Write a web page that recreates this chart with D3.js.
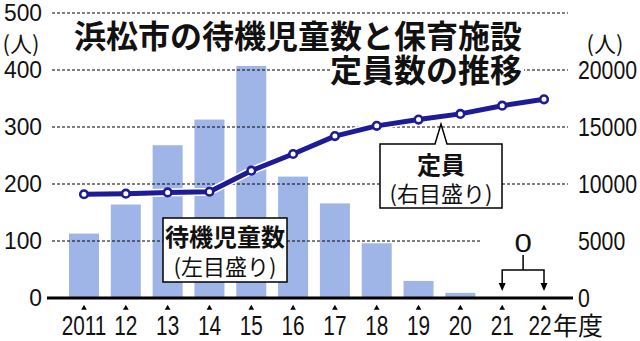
<!DOCTYPE html>
<html>
<head>
<meta charset="utf-8">
<script src="https://cdn.jsdelivr.net/npm/d3@7"></script>
<style>
  body { margin: 0; background: #fff; }
  svg { display: block; }
  .jp { font-family: "Noto Sans CJK JP", sans-serif; }
  .num { font-family: "Liberation Sans", sans-serif; }
</style>
</head>
<body>
<svg width="640" height="341"></svg>
<script>
const years = ["2011", "12", "13", "14", "15", "16", "17", "18", "19", "20", "21", "22"];
const waiting = [113, 164, 268, 313, 407, 213, 166, 96, 30, 9, 0, 0];
const capacity = [9100, 9150, 9260, 9320, 11170, 12630, 14200, 15100, 15650, 16150, 16870, 17430];
const leftTicks = [0, 100, 200, 300, 400, 500];
const rightTicks = [0, 5000, 10000, 15000, 20000];

const navy = "#1d1b96";
const barColor = "#9fb5e7";

const svg = d3.select("svg");

const x = d3.scalePoint().domain(years).range([84, 544]);
const yL = d3.scaleLinear().domain([0, 500]).range([298, 13]);
const yR = d3.scaleLinear().domain([0, 25000]).range([298, 13]);
const barW = 30;

// bars
svg.append("g")
  .selectAll("rect")
  .data(years)
  .enter()
  .append("rect")
  .attr("fill", barColor)
  .attr("x", (d) => x(d) - barW / 2)
  .attr("width", barW)
  .attr("y", (d, i) => yL(waiting[i]))
  .attr("height", (d, i) => yL(0) - yL(waiting[i]));

// dashed grid
svg.append("g")
  .selectAll("line")
  .data(leftTicks.slice(1))
  .enter()
  .append("line")
  .attr("x1", 52)
  .attr("x2", (d) => d === 100 ? 482 : 568)
  .attr("y1", (d) => yL(d))
  .attr("y2", (d) => yL(d))
  .attr("stroke", "#000")
  .attr("stroke-width", 1.2)
  .attr("stroke-dasharray", "3,2");

// left axis labels
svg.append("g")
  .selectAll("text")
  .data(leftTicks)
  .enter()
  .append("text")
  .attr("class", "num")
  .attr("font-size", 24)
  .attr("fill", "#111")
  .attr("text-anchor", "end")
  .attr("dominant-baseline", "central")
  .attr("transform", (d) => "translate(42," + yL(d) + ") scale(0.95,1)")
  .text((d) => d);

// right axis labels
svg.append("g")
  .selectAll("text")
  .data(rightTicks)
  .enter()
  .append("text")
  .attr("class", "num")
  .attr("font-size", 25)
  .attr("fill", "#111")
  .attr("dominant-baseline", "central")
  .attr("transform", (d) => "translate(578," + yR(d) + ") scale(0.85,1)")
  .text((d) => d);

// unit labels
svg.append("text").attr("class", "jp").attr("x", 21).attr("y", 42)
  .attr("text-anchor", "middle").attr("dominant-baseline", "central")
  .attr("font-size", 22).attr("fill", "#111").text("(人)");
svg.append("text").attr("class", "jp").attr("x", 605).attr("y", 42)
  .attr("text-anchor", "middle").attr("dominant-baseline", "central")
  .attr("font-size", 22).attr("fill", "#111").text("(人)");

// x axis line
svg.append("line")
  .attr("x1", 47).attr("x2", 573)
  .attr("y1", yL(0)).attr("y2", yL(0))
  .attr("stroke", "#000").attr("stroke-width", 3);

// tick triangles
svg.append("g")
  .selectAll("path")
  .data(years)
  .enter()
  .append("path")
  .attr("d", d3.symbol(d3.symbolTriangle, 14))
  .attr("transform", (d) => "translate(" + x(d) + ",308)");

// x labels
svg.append("g")
  .selectAll("text")
  .data(years)
  .enter()
  .append("text")
  .attr("class", "num")
  .attr("font-size", 27)
  .attr("fill", "#111")
  .attr("text-anchor", "middle")
  .attr("transform", (d) => "translate(" + (x(d) - (d === "22" ? 4 : 0)) + ",335) scale(0.77,1)")
  .text((d) => d);
svg.append("text").attr("class", "jp")
  .attr("x", x("22") + 9).attr("y", 335)
  .attr("font-size", 25).attr("fill", "#111").text("年度");

// title
svg.append("rect").attr("x", 330).attr("y", 54).attr("width", 194).attr("height", 28).attr("fill", "#fff");
svg.append("text").attr("class", "jp")
  .attr("x", 522).attr("y", 34)
  .attr("text-anchor", "end").attr("dominant-baseline", "central")
  .attr("font-size", 32).attr("font-weight", 700).attr("fill", "#111")
  .text("浜松市の待機児童数と保育施設");
svg.append("text").attr("class", "jp")
  .attr("x", 522).attr("y", 68)
  .attr("text-anchor", "end").attr("dominant-baseline", "central")
  .attr("font-size", 32).attr("font-weight", 700).attr("fill", "#111")
  .text("定員数の推移");

// left callout box
svg.append("rect")
  .attr("x", 163).attr("y", 218).attr("width", 124).attr("height", 64)
  .attr("fill", "#fff").attr("stroke", "#000").attr("stroke-width", 1.5);
svg.append("text").attr("class", "jp")
  .attr("x", 225).attr("y", 235)
  .attr("text-anchor", "middle").attr("dominant-baseline", "central")
  .attr("font-size", 24).attr("font-weight", 700).attr("fill", "#111")
  .text("待機児童数");
svg.append("text").attr("class", "jp")
  .attr("x", 225).attr("y", 265)
  .attr("text-anchor", "middle").attr("dominant-baseline", "central")
  .attr("font-size", 22).attr("fill", "#111")
  .text("(左目盛り)");

// "0" annotation
svg.append("rect").attr("x", 484).attr("y", 230).attr("width", 80).attr("height", 24).attr("fill", "#fff");
svg.append("text")
  .attr("class", "num")
  .attr("font-size", 26).attr("fill", "#111")
  .attr("text-anchor", "middle").attr("dominant-baseline", "central")
  .attr("transform", "translate(" + (x("21") + x("22")) / 2 + ",243) scale(1.2,1)")
  .text("0");
const bx1 = x("21"), bx2 = x("22"), bm = (bx1 + bx2) / 2;
svg.append("path")
  .attr("d", "M" + bm + ",255V270M" + bx1 + ",287V270H" + bx2 + "V287")
  .attr("fill", "none").attr("stroke", "#000").attr("stroke-width", 1.5);
svg.append("g")
  .selectAll("path")
  .data(["21", "22"])
  .enter()
  .append("path")
  .attr("d", (d) => "M" + (x(d) - 3.5) + ",283L" + (x(d) + 3.5) + ",283L" + x(d) + ",291Z")
  .attr("fill", "#000");

// capacity line
const line = d3.line()
  .x((d, i) => x(years[i]))
  .y((d) => yR(d));
svg.append("path").datum(capacity)
  .attr("d", line).attr("fill", "none")
  .attr("stroke", "#fff").attr("stroke-width", 8).attr("stroke-linejoin", "round");
svg.append("path").datum(capacity)
  .attr("d", line).attr("fill", "none")
  .attr("stroke", navy).attr("stroke-width", 5).attr("stroke-linejoin", "round");
svg.append("g")
  .selectAll("circle")
  .data(capacity)
  .enter()
  .append("circle")
  .attr("cx", (d, i) => x(years[i]))
  .attr("cy", (d) => yR(d))
  .attr("r", 3.8)
  .attr("fill", "#fff")
  .attr("stroke", navy)
  .attr("stroke-width", 2.6);

// right callout
svg.append("path")
  .attr("d", "M380,144H435L441,124L447,144H502V208H380Z")
  .attr("fill", "#fff").attr("stroke", "#000").attr("stroke-width", 1.5);
svg.append("text").attr("class", "jp")
  .attr("x", 441).attr("y", 163)
  .attr("text-anchor", "middle").attr("dominant-baseline", "central")
  .attr("font-size", 24).attr("font-weight", 700).attr("fill", "#111")
  .text("定員");
svg.append("text").attr("class", "jp")
  .attr("x", 441).attr("y", 192)
  .attr("text-anchor", "middle").attr("dominant-baseline", "central")
  .attr("font-size", 22).attr("fill", "#111")
  .text("(右目盛り)");
</script>
</body>
</html>
